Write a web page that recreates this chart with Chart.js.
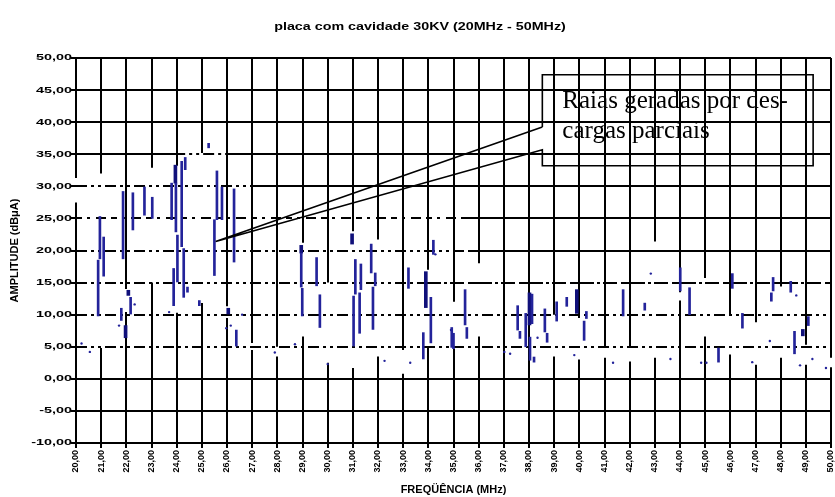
<!DOCTYPE html>
<html><head><meta charset="utf-8">
<script src="https://cdn.jsdelivr.net/npm/chart.js@4.4.1/dist/chart.umd.min.js"></script>
<style>html,body{margin:0;padding:0;background:#fff}#wrap{width:835px;height:497px}</style>
</head><body><div id="wrap"><canvas id="c" width="835" height="497"></canvas></div>
<script>
// ---- text ----
const chartTitle = 'placa com cavidade 30KV (20MHz - 50MHz)';
const xAxisTitle = 'FREQÜÊNCIA (MHz)';
const yAxisTitle = 'AMPLITUDE (dBμA)';
const calloutText = ['Raias geradas por des-', 'cargas parciais'];

// ---- ticks ----
const xTickValues = [20,21,22,23,24,25,26,27,28,29,30,31,32,33,34,35,36,37,38,39,40,41,42,43,44,45,46,47,48,49,50];
const xTickLabels = ['20,00','21,00','22,00','23,00','24,00','25,00','26,00','27,00','28,00','29,00','30,00','31,00','32,00','33,00','34,00','35,00','36,00','37,00','38,00','39,00','40,00','41,00','42,00','43,00','44,00','45,00','46,00','47,00','48,00','49,00','50,00'];
const yTickValues = [50,45,40,35,30,25,20,15,10,5,0,-5,-10];
const yTickLabels = ['50,00','45,00','40,00','35,00','30,00','25,00','20,00','15,00','10,00','5,00','0,00','-5,00','-10,00'];

// ---- spectral lines (MHz, low dB, high dB) ----
const lineFreq = [20.95,21.10,20.88,21.87,22.26,22.72,23.03,23.80,23.97,24.20,24.34,24.03,23.88,24.28,24.43,24.90,25.60,25.80,25.50,26.28,26.37,21.80,22.17,25.27,
  28.95,28.99,29.56,29.69,31.10,31.03,31.27,31.32,31.73,31.89,31.80,33.21,34.10,33.80,34.20,34.93,
  35.46,35.53,35.00,37.55,37.64,37.87,38.12,38.04,38.20,38.63,38.72,39.10,39.50,40.28,40.19,41.74,42.60,
  44.01,44.38,45.53,46.08,46.48,47.70,47.63,48.40,49.10,48.55];
const lineLow  = [18.7,16.0,9.8,18.7,23.2,25.5,25.0,24.8,22.9,20.6,32.6,15.1,11.4,12.7,13.5,11.4,24.8,24.8,16.1,18.2,5.1,9.1,10.1,36.0,
  14.3,9.8,14.5,8.0,13.2,5.1,7.1,13.9,16.5,14.5,7.7,14.1,5.6,3.1,19.4,4.9,
  8.4,6.3,4.7,7.6,6.3,5.0,8.6,2.9,2.6,7.3,5.7,9.0,11.3,9.4,6.0,9.8,10.7,
  13.7,10.0,2.6,14.1,7.9,13.7,12.1,13.5,8.3,3.9];
const lineHigh = [25.3,22.1,18.5,29.2,29.0,29.9,28.3,30.5,30.5,33.9,34.5,22.4,17.2,20.3,14.3,12.2,32.4,29.9,24.8,29.6,7.6,11.0,12.7,36.7,
  19.6,14.1,18.9,13.1,18.6,12.9,13.4,17.9,21.0,16.5,14.3,17.3,12.7,7.2,21.6,8.0,
  13.9,8.0,7.1,11.4,7.4,10.2,13.2,6.5,3.4,10.9,7.1,12.0,12.7,10.5,9.0,13.9,11.8,
  17.3,14.2,4.8,16.4,10.2,15.8,13.4,15.2,9.7,7.4];
// heavier (darker, wider) lines
const heavyFreq = [23.95,21.97,22.08,26.05,28.95,30.97,33.90,38.02,39.90,48.88];
const heavyLow  = [30.5,6.4,13.0,10.1,19.6,21.0,11.1,8.4,10.2,6.7];
const heavyHigh = [33.3,8.3,13.8,11.0,20.8,22.6,16.7,13.4,13.9,7.7];
// isolated dots (MHz, dB)
const dotFreq = [20.22,20.55,21.71,22.33,23.70,26.60,25.97,26.15,28.70,27.90,30.00,32.26,33.28,34.28,37.25,37.02,38.34,39.80,41.34,34.90,42.84,43.62,44.84,45.05,46.87,47.57,48.62,48.77,49.26,49.80];
const dotAmp  = [5.5,4.2,8.3,11.6,10.4,10.0,7.9,8.3,5.4,4.1,2.3,2.8,2.5,19.4,3.9,4.2,6.4,3.7,2.5,7.6,16.4,3.1,2.5,2.5,2.6,5.9,13.0,2.1,3.1,1.7];

// ---- callout (data units) ----
const calloutTip = [25.55, 21.4];
const calloutBox = {left: 38.53, right: 49.29, top: 47.4, bottom: 33.2, joinTop: 39.25, joinBottom: 35.7};

// ---- grid breaks (style) ----
const vGridGaps = {20:[[31.3,27.5]],21:[[32,4.8]],22:[[14,10.4]],23:[[32.9,15]],24:[[33.2,10.3]],25:[[35.2,11.8]],26:[[11.3,9.5]],27:[[5.6,4.5]],
  28:[[5,3.5]],29:[[21.2,6.6]],30:[[15,2.5]],31:[[23,1.7]],32:[[21.7,3.5]],33:[[4.5,0.8]],34:[[17,5]],35:[[12,4.7]],36:[[18,6.6]],
  39:[[10,3.5]],40:[[9.5,3]],41:[[4.8,3.3]],42:[[4.8,2.7]],43:[[21.4,3.3]],44:[[13.5,12.2]],45:[[15.7,6.6]],46:[[9.8,3.8]],47:[[8.8,2.2]],48:[[14.4,3.3]],49:[[5.3,2.2]],50:[[3.3,1.8]]};
const hGridDash = {35:[[23.9,25.9,0]],30:[[20,26.7,0]],25:[[20,35,1]],20:[[20,35,0]],15:[[20,33.5,0],[33.5,50,2]],10:[[20,50,0]],5:[[20,50,0]]};
const dashPatterns = [[11,4,3,4,3,4],[6,5,3,6,10,5],[24,3,3,3,14,4]];

const BLUE = '#23239a';
const segData = (f, lo, hi) => f.map((x, i) => ({x: x, y: [lo[i], hi[i]]}));

function vDash(ctx) {
  if (!ctx.tick) return [];
  const gaps = vGridGaps[ctx.tick.value];
  if (!gaps) return [];
  const ys = ctx.chart.scales.y, top = ctx.chart.chartArea.top;
  const arr = []; let pos = 0;
  gaps.forEach(([a, b]) => {
    const pa = ys.getPixelForValue(a) - top, pb = ys.getPixelForValue(b) - top;
    arr.push(Math.max(0.01, pa - pos), pb - pa); pos = pb;
  });
  arr.push(3000, 0);
  return arr;
}
function hDash(ctx) {
  if (!ctx.tick) return [];
  const rs = hGridDash[ctx.tick.value];
  if (!rs) return [];
  const xs = ctx.chart.scales.x, left = ctx.chart.chartArea.left;
  const arr = []; let pos = 0;
  rs.forEach(([a, b, k]) => {
    const pa = xs.getPixelForValue(a) - left, pb = xs.getPixelForValue(b) - left;
    if (pa > pos + 0.5) { arr.push(pa - pos, 0); pos = pa; }
    const pat = dashPatterns[k]; let i = 0;
    while (pos < pb) { arr.push(pat[i % pat.length], pat[(i + 1) % pat.length]); pos += pat[i % pat.length] + pat[(i + 1) % pat.length]; i += 2; }
  });
  arr.push(3000, 0);
  return arr;
}

function sText(c, txt, x, y, sx, font, align, base, rot) {
  c.save(); c.translate(x, y); c.scale(sx, 1); if (rot) c.rotate(rot);
  c.font = font; c.textAlign = align; c.textBaseline = base; c.fillStyle = '#000';
  c.fillText(txt, 0, 0); c.restore();
}

const textPlugin = {
  id: 'texts',
  afterDraw(chart) {
    const c = chart.ctx, xs = chart.scales.x, ys = chart.scales.y, a = chart.chartArea;
    sText(c, chartTitle, 420, 27, 1.3, 'bold 11px "Liberation Sans", Arial, sans-serif', 'center', 'middle');
    yTickValues.forEach((v, i) => sText(c, yTickLabels[i], a.left - 4, ys.getPixelForValue(v), 1.6, 'bold 9px "Liberation Sans", Arial, sans-serif', 'right', 'middle'));
    xTickValues.forEach((v, i) => sText(c, xTickLabels[i], xs.getPixelForValue(v), a.bottom + 7, 1, 'bold 9px "Liberation Sans", Arial, sans-serif', 'right', 'middle', -Math.PI / 2));
    sText(c, xAxisTitle, (a.left + a.right) / 2, 490, 1.1, 'bold 10px "Liberation Sans", Arial, sans-serif', 'center', 'middle');
    sText(c, yAxisTitle, 15, (a.top + a.bottom) / 2 + 0, 1, 'bold 11px "Liberation Sans", Arial, sans-serif', 'center', 'middle', -Math.PI / 2);
  }
};

const calloutPlugin = {
  id: 'callout',
  afterDraw(chart) {
    const c = chart.ctx, xs = chart.scales.x, ys = chart.scales.y;
    const L = xs.getPixelForValue(calloutBox.left), R = xs.getPixelForValue(calloutBox.right);
    const T = ys.getPixelForValue(calloutBox.top), B = ys.getPixelForValue(calloutBox.bottom);
    const J1 = ys.getPixelForValue(calloutBox.joinTop), J2 = ys.getPixelForValue(calloutBox.joinBottom);
    const tx = xs.getPixelForValue(calloutTip[0]), ty = ys.getPixelForValue(calloutTip[1]);
    c.save(); c.strokeStyle = '#000'; c.lineWidth = 1.6;
    c.beginPath(); c.moveTo(L, J1); c.lineTo(L, T); c.lineTo(R, T); c.lineTo(R, B); c.lineTo(L, B); c.lineTo(L, J2); c.lineTo(tx, ty); c.lineTo(L, J1); c.stroke();
    c.fillStyle = '#000'; c.font = '25px "Liberation Serif", "Times New Roman", serif'; c.textBaseline = 'alphabetic'; c.textAlign = 'left';
    c.fillText(calloutText[0], L + 20, T + 33);
    c.fillText(calloutText[1], L + 20, T + 63);
    c.restore();
  }
};

new Chart(document.getElementById('c'), {
  type: 'bar',
  data: { datasets: [
    {type: 'bar', data: segData(lineFreq, lineLow, lineHigh), backgroundColor: BLUE, barThickness: 2, borderWidth: 0, grouped: false},
    {type: 'bar', data: segData(heavyFreq, heavyLow, heavyHigh), backgroundColor: '#10107a', barThickness: 3, borderWidth: 0, grouped: false},
    {type: 'scatter', data: dotFreq.map((x, i) => ({x: x, y: dotAmp[i]})), pointRadius: 1.2, pointBackgroundColor: BLUE, pointBorderWidth: 0}
  ]},
  options: {
    responsive: false, animation: false, devicePixelRatio: 1,
    layout: {padding: {left: 71, right: 3, top: 58, bottom: 49}},
    plugins: {legend: {display: false}, tooltip: {enabled: false}, title: {display: false}},
    scales: {
      x: {type: 'linear', min: 20, max: 50, offset: false,
          ticks: {display: false, stepSize: 1},
          grid: {offset: false, color: '#000', lineWidth: 2, tickLength: 5, tickColor: '#000', tickWidth: 2},
          border: {display: false, dash: vDash}},
      y: {type: 'linear', min: -10, max: 50,
          ticks: {display: false, stepSize: 5},
          grid: {color: '#000', lineWidth: 2, tickLength: 5, tickColor: '#000', tickWidth: 2},
          border: {display: false, dash: hDash}}
    }
  },
  plugins: [textPlugin, calloutPlugin]
});
</script></body></html>
